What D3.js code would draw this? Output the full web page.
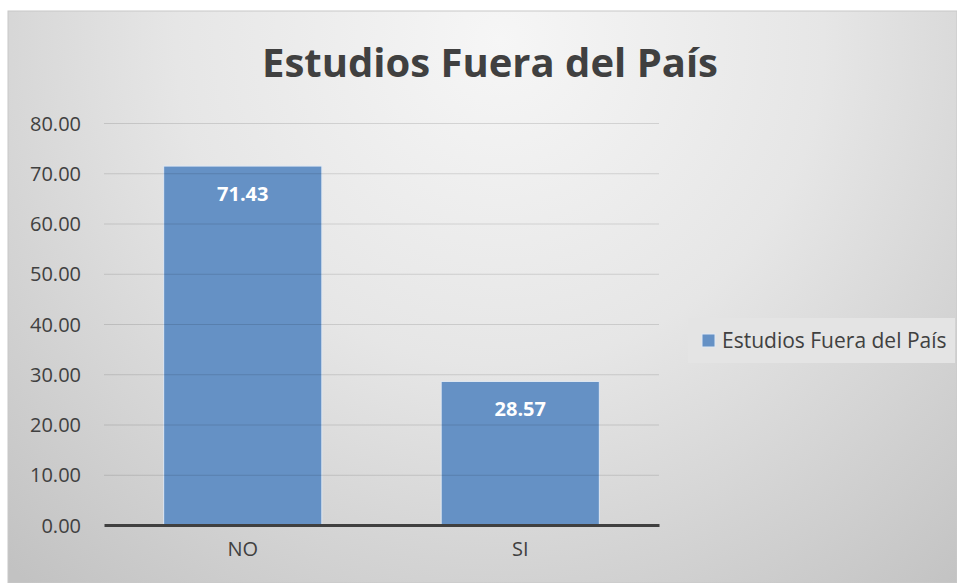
<!DOCTYPE html>
<html>
<head>
<meta charset="utf-8">
<script src="https://cdn.jsdelivr.net/npm/d3@7"></script>
<style>
  body { margin: 0; background: #fff; }
  svg { display: block; font-family: "Open Sans", sans-serif; }
</style>
</head>
<body>
<div id="chart"></div>
<script>
const categories = ['NO', 'SI'];
const values = [71.43, 28.57];
const yTicks = [0, 10, 20, 30, 40, 50, 60, 70, 80];
const seriesName = 'Estudios Fuera del País';
const title = 'Estudios Fuera del País';

const width = 957, height = 583;
const margin = { top: 123, right: 298, bottom: 58, left: 104 };
const innerW = width - margin.left - margin.right;
const innerH = height - margin.top - margin.bottom;

const svg = d3.select('#chart').append('svg')
  .attr('width', width)
  .attr('height', height);

// background gradient like the Excel chart area
const defs = svg.append('defs');
const grad = defs.append('radialGradient')
  .attr('id', 'bg')
  .attr('gradientUnits', 'userSpaceOnUse')
  .attr('cx', 500).attr('cy', 40).attr('r', 720);
grad.append('stop').attr('offset', '0%').attr('stop-color', '#f6f6f6');
grad.append('stop').attr('offset', '45%').attr('stop-color', '#e6e6e6');
grad.append('stop').attr('offset', '100%').attr('stop-color', '#c2c2c2');

svg.append('rect')
  .attr('x', 8).attr('y', 11)
  .attr('width', width - 8).attr('height', height - 11)
  .attr('fill', 'url(#bg)')
  .attr('stroke', '#c8c8c8');

svg.append('text')
  .attr('x', 490)
  .attr('y', 77)
  .attr('text-anchor', 'middle')
  .attr('font-size', 40)
  .attr('font-weight', 'bold')
  .attr('fill', '#404040')
  .text(title);

const g = svg.append('g').attr('transform', `translate(${margin.left},${margin.top})`);

const x = d3.scaleBand().domain(categories).range([0, innerW]).paddingInner(0.43).paddingOuter(0.215);
const y = d3.scaleLinear().domain([0, 80]).range([innerH, 0]);

// bars
g.selectAll('.bar')
  .data(values)
  .enter().append('rect')
  .attr('class', 'bar')
  .attr('x', (d, i) => x(categories[i]))
  .attr('y', d => y(d))
  .attr('width', x.bandwidth())
  .attr('height', d => innerH - y(d))
  .attr('fill', '#6591c5')
  .attr('stroke', '#dfe8f3')
  .attr('stroke-width', 1);

// gridlines drawn over the bars (they show faintly through in the reference)
const yAxis = g.append('g')
  .call(d3.axisLeft(y).tickValues(yTicks).tickSize(-innerW).tickFormat(d3.format('.2f')).tickPadding(23));
yAxis.select('.domain').remove();
yAxis.selectAll('.tick line')
  .attr('stroke', '#000')
  .attr('stroke-opacity', d => d === 0 ? 0 : 0.12);
yAxis.selectAll('.tick text')
  .attr('font-size', 20)
  .attr('dy', '0.36em')
  .attr('fill', '#404040')
  .attr('font-family', '"Open Sans", sans-serif');

// base axis line
const xAxis = g.append('g')
  .attr('transform', `translate(0,${innerH})`)
  .call(d3.axisBottom(x).tickSize(0).tickPadding(17));
xAxis.select('.domain').attr('stroke', '#404040').attr('stroke-width', 3);
xAxis.selectAll('.tick text')
  .attr('font-size', 20)
  .attr('fill', '#404040')
  .attr('font-family', '"Open Sans", sans-serif');

// value labels inside bar ends
g.selectAll('.lbl')
  .data(values)
  .enter().append('text')
  .attr('class', 'lbl')
  .attr('x', (d, i) => x(categories[i]) + x.bandwidth() / 2)
  .attr('y', d => y(d) + 35)
  .attr('text-anchor', 'middle')
  .attr('font-size', 20)
  .attr('font-weight', 'bold')
  .attr('fill', '#fff')
  .text(d => d.toFixed(2));

// legend
const legend = svg.append('g').attr('transform', 'translate(688,318)');
legend.append('rect')
  .attr('width', 267).attr('height', 45)
  .attr('fill', '#e4e4e4');
legend.append('rect')
  .attr('x', 14).attr('y', 16)
  .attr('width', 13).attr('height', 13)
  .attr('fill', '#6591c5')
  .attr('stroke', '#dfe8f3');
legend.append('text')
  .attr('x', 34).attr('y', 30)
  .attr('font-size', 21)
  .attr('fill', '#404040')
  .text(seriesName);
</script>
</body>
</html>
